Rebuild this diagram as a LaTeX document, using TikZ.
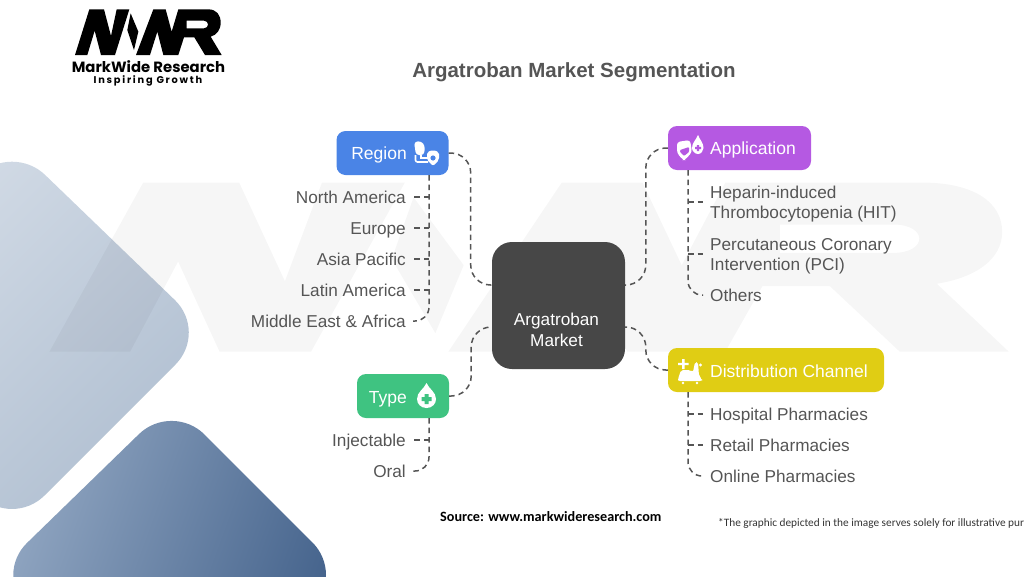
\documentclass[tikz,border=0pt]{standalone}
\usepackage{fontspec}
\setmainfont{Liberation Sans}
\newfontfamily\calib{Carlito}
\newfontfamily\logofont{Poppins}
\definecolor{ink}{HTML}{555555}
\definecolor{hubc}{HTML}{474747}
\definecolor{regionc}{HTML}{4A84E6}
\definecolor{appc}{HTML}{B559E2}
\definecolor{typec}{HTML}{3FC381}
\definecolor{distc}{HTML}{E0CD14}
\definecolor{lightA}{HTML}{D6DEE8}
\definecolor{lightB}{HTML}{B0BFD1}
\definecolor{darkA}{HTML}{93A8C3}
\definecolor{darkB}{HTML}{3F5E88}
\newcommand{\mwrshape}{%
 (225,165) -- (268,28) -- (312,28) -- (333,108) -- (350,28) -- (388,28) -- (345,165) -- (303,165) -- (284,92) -- (262,165) -- cycle
 (392,40) -- (415,95) -- (402,150) -- (382,90) -- cycle
 (408,165) -- (460,28) -- (497,28) -- (515,95) -- (535,28) -- (625,28) .. controls (650,28) and (662,45) .. (662,68) .. controls (662,90) and (650,105) .. (632,110) -- (665,165) -- (615,165) -- (583,112) -- (552,112) -- (535,165) -- (490,165) -- (472,95) -- (450,165) -- cycle
 (560,62) -- (560,85) -- (612,85) .. controls (628,85) and (628,62) .. (612,62) -- cycle
}
\tikzset{
 pill/.style={rounded corners=9pt,inner sep=0pt},
 pilltext/.style={inner sep=0pt,text=white,text height=14pt,text depth=2pt,font=\fontsize{17.5}{21}\selectfont},
 hubbox/.style={fill=hubc,rounded corners=20pt,minimum width=133pt,minimum height=127pt,inner sep=0pt},
 hubtext/.style={inner sep=0pt,text=white,align=center,font=\fontsize{17.2}{21}\selectfont},
 leafL/.style={text=ink,anchor=east,inner ysep=0pt,inner xsep=7pt,text height=14pt,text depth=2pt,font=\fontsize{17.2}{21}\selectfont},
 leafR/.style={text=ink,anchor=west,inner ysep=0pt,inner xsep=7pt,text height=14pt,text depth=2pt,font=\fontsize{17.2}{21}\selectfont},
 leafM/.style={text=ink,anchor=west,inner ysep=0pt,inner xsep=7pt,align=left,font=\fontsize{17.2}{21}\selectfont},
 link/.style={draw=ink,line width=1.5pt,dash pattern=on 5.5pt off 4pt},
 icon/.style={fill=white,draw=none},
}
\begin{document}
\begin{tikzpicture}[x=1pt,y=-1pt]
\useasboundingbox (0,0) rectangle (1024,576);
\clip (0,0) rectangle (1024,576);
% background diamonds
\path[rounded corners=46pt,left color=lightA,right color=lightB,shading angle=45]
  (-184,332) -- (12,143) -- (208,332) -- (12,528) -- cycle;
\path[rounded corners=46pt,left color=darkA,right color=darkB,shading angle=70]
  (-6,575) -- (172,402) -- (345,575) -- (172,750) -- cycle;
% watermark
\begin{scope}[shift={(-441,148)},xscale=2.18,yscale=1.234]
\fill[black,opacity=.035,even odd rule] \mwrshape;
\end{scope}
% logo
\begin{scope}[xscale=1/3,yscale=1/3]
\fill[black,even odd rule] \mwrshape;
\end{scope}
\node[inner sep=0pt,font=\logofont\bfseries\fontsize{14.85}{16}\selectfont] (brand) at (148.5,66.5) {MarkWide Research};
\node[inner sep=0pt,font=\logofont\bfseries\fontsize{9.8}{11}\selectfont\addfontfeatures{LetterSpace=18}] (slogan) at (148,81) {Inspiring Growth};
% title
\node[inner sep=0pt,text=ink,font=\bfseries\fontsize{20.5}{24}\selectfont] (title) at (574,72.5) {Argatroban Market Segmentation};
% hub and category boxes
\node[hubbox] (hub) at (558.5,305.5) {};
\node[hubtext] (hubT) at (556.5,329.5) {Argatroban\\Market};
\node[pill,fill=regionc,minimum width=112pt,minimum height=44pt] (region) at (392.5,153) {};
\node[pill,fill=appc,minimum width=143pt,minimum height=44pt] (app) at (739.5,148) {};
\node[pill,fill=typec,minimum width=92pt,minimum height=44pt] (type) at (403,396) {};
\node[pill,fill=distc,minimum width=216pt,minimum height=44pt] (dist) at (776,370) {};
\node[pilltext,anchor=east] (regionT) at (407,153) {Region};
\node[pilltext,anchor=west] (appT) at (710,148) {Application};
\node[pilltext,anchor=east] (typeT) at (407,397) {Type};
\node[pilltext,anchor=west] (distT) at (710,371) {Distribution Channel};
% leaves
\node[leafL] (na) at (413,197) {North America};
\node[leafL] (eu) at (413,228) {Europe};
\node[leafL] (ap) at (413,259) {Asia Pacific};
\node[leafL] (la) at (413,290) {Latin America};
\node[leafL] (mea) at (413,321) {Middle East \& Africa};
\node[leafL] (inj) at (413,440) {Injectable};
\node[leafL] (oral) at (413,471) {Oral};
\node[leafM] (hit) at (703,202) {\rule{0pt}{17pt}Heparin-induced\\[-0.5pt]Thrombocytopenia (HIT)};
\node[leafM] (pci) at (703,254) {\rule{0pt}{17pt}Percutaneous Coronary\\[-0.5pt]Intervention (PCI)};
\node[leafR] (oth) at (703,295) {Others};
\node[leafR] (hos) at (703,414) {Hospital Pharmacies};
\node[leafR] (ret) at (703,445) {Retail Pharmacies};
\node[leafR] (onl) at (703,476) {Online Pharmacies};
% connector anchors
\coordinate (hubA) at (492,285);
\coordinate (hubB) at (492,327);
\coordinate (hubC) at (625,285);
\coordinate (hubD) at (625,327);
\coordinate (regionS) at (429,175);
\coordinate (typeS) at (429,418);
\coordinate (appS) at (688,170);
\coordinate (distS) at (688,392);
% hub connectors
\draw[link,rounded corners=20pt] (region.east) -- ++(22,0) |- (hubA);
\draw[link,rounded corners=20pt] (type.east) -- ++(22,0) |- (hubB);
\draw[link,rounded corners=20pt] (app.west) -- ++(-22,0) |- (hubC);
\draw[link,rounded corners=20pt] (dist.west) -- ++(-22,0) |- (hubD);
% tree connectors
\draw[link,rounded corners=14pt] (regionS) |- (mea.east);
\draw[link] (regionS |- na.east) -- (na.east);
\draw[link] (regionS |- eu.east) -- (eu.east);
\draw[link] (regionS |- ap.east) -- (ap.east);
\draw[link] (regionS |- la.east) -- (la.east);
\draw[link,rounded corners=14pt] (typeS) |- (oral.east);
\draw[link] (typeS |- inj.east) -- (inj.east);
\draw[link,rounded corners=14pt] (appS) |- (oth.west);
\draw[link] (appS |- hit.west) -- (hit.west);
\draw[link] (appS |- pci.west) -- (pci.west);
\draw[link,rounded corners=14pt] (distS) |- (onl.west);
\draw[link] (distS |- hos.west) -- (hos.west);
\draw[link] (distS |- ret.west) -- (ret.west);
% icons: region
\fill[icon,rounded corners=3pt] (414,142) -- (421,141) -- (425,146) -- (424,155) -- (416,155) -- cycle;
\draw[white,line width=1.6pt,rounded corners=2pt] (415.5,155) -- (415.5,162) -- (428,162);
\draw[white,line width=1.4pt] (421,155) -- (421,158) -- (428,158);
\fill[icon,rounded corners=2pt] (427,152) -- (433,150) -- (439,152) -- (439,160) -- (433,166) -- (427,160) -- cycle;
\fill[regionc] (433,158) circle (2.6pt);
% icons: application
\fill[icon,rounded corners=3pt] (677,142) -- (690,140) -- (692,152) -- (685,160) -- (683,160) -- (677,153) -- cycle;
\fill[appc,rounded corners=1pt] (680,150) -- (689,147) -- (689,152) -- (684,156) -- (680,152) -- cycle;
\fill[icon] (692,148) .. controls (692,143) and (696,140) .. (698,135) .. controls (700,140) and (703.5,143) .. (703.5,148) .. controls (703.5,151) and (701,154) .. (698,154) .. controls (695,154) and (692,151) .. (692,148) -- cycle;
\fill[appc] (696.8,145) rectangle (699.2,151) (695,146.8) rectangle (701,149.2);
% icons: type
\fill[icon] (417,399) .. controls (417,392) and (424,389) .. (426.5,383) .. controls (429,389) and (436,392) .. (436,399) .. controls (436,404) and (432,408) .. (426.5,408) .. controls (421,408) and (417,404) .. (417,399) -- cycle;
\fill[typec] (424.5,394) rectangle (428.5,404) (421.5,397) rectangle (431.5,401);
% icons: distribution
\fill[icon] (682,359) rectangle (684.5,369) (678,362.8) rectangle (688.5,365.2);
\fill[icon,rounded corners=2pt] (678,379) -- (681,370) -- (690,370) -- (693,372) -- (695,362) -- (698,362) -- (699,376) -- (702,379) -- (702,381) -- (678,381) -- cycle;
\fill[icon] (700.5,365) circle (1.6pt);
\fill[icon] (683,383) circle (1.4pt) (697,383) circle (1.4pt);
% footer
\node[inner sep=0pt,anchor=west,font=\calib\bfseries\fontsize{14.2}{17}\selectfont] (source) at (440,517) {Source: www.markwideresearch.com};
\node[inner sep=0pt,anchor=west,text=black!80,font=\calib\fontsize{11.3}{14}\selectfont] (note) at (718,523.5) {*The graphic depicted in the image serves solely for illustrative pur};
\end{tikzpicture}
\end{document}
